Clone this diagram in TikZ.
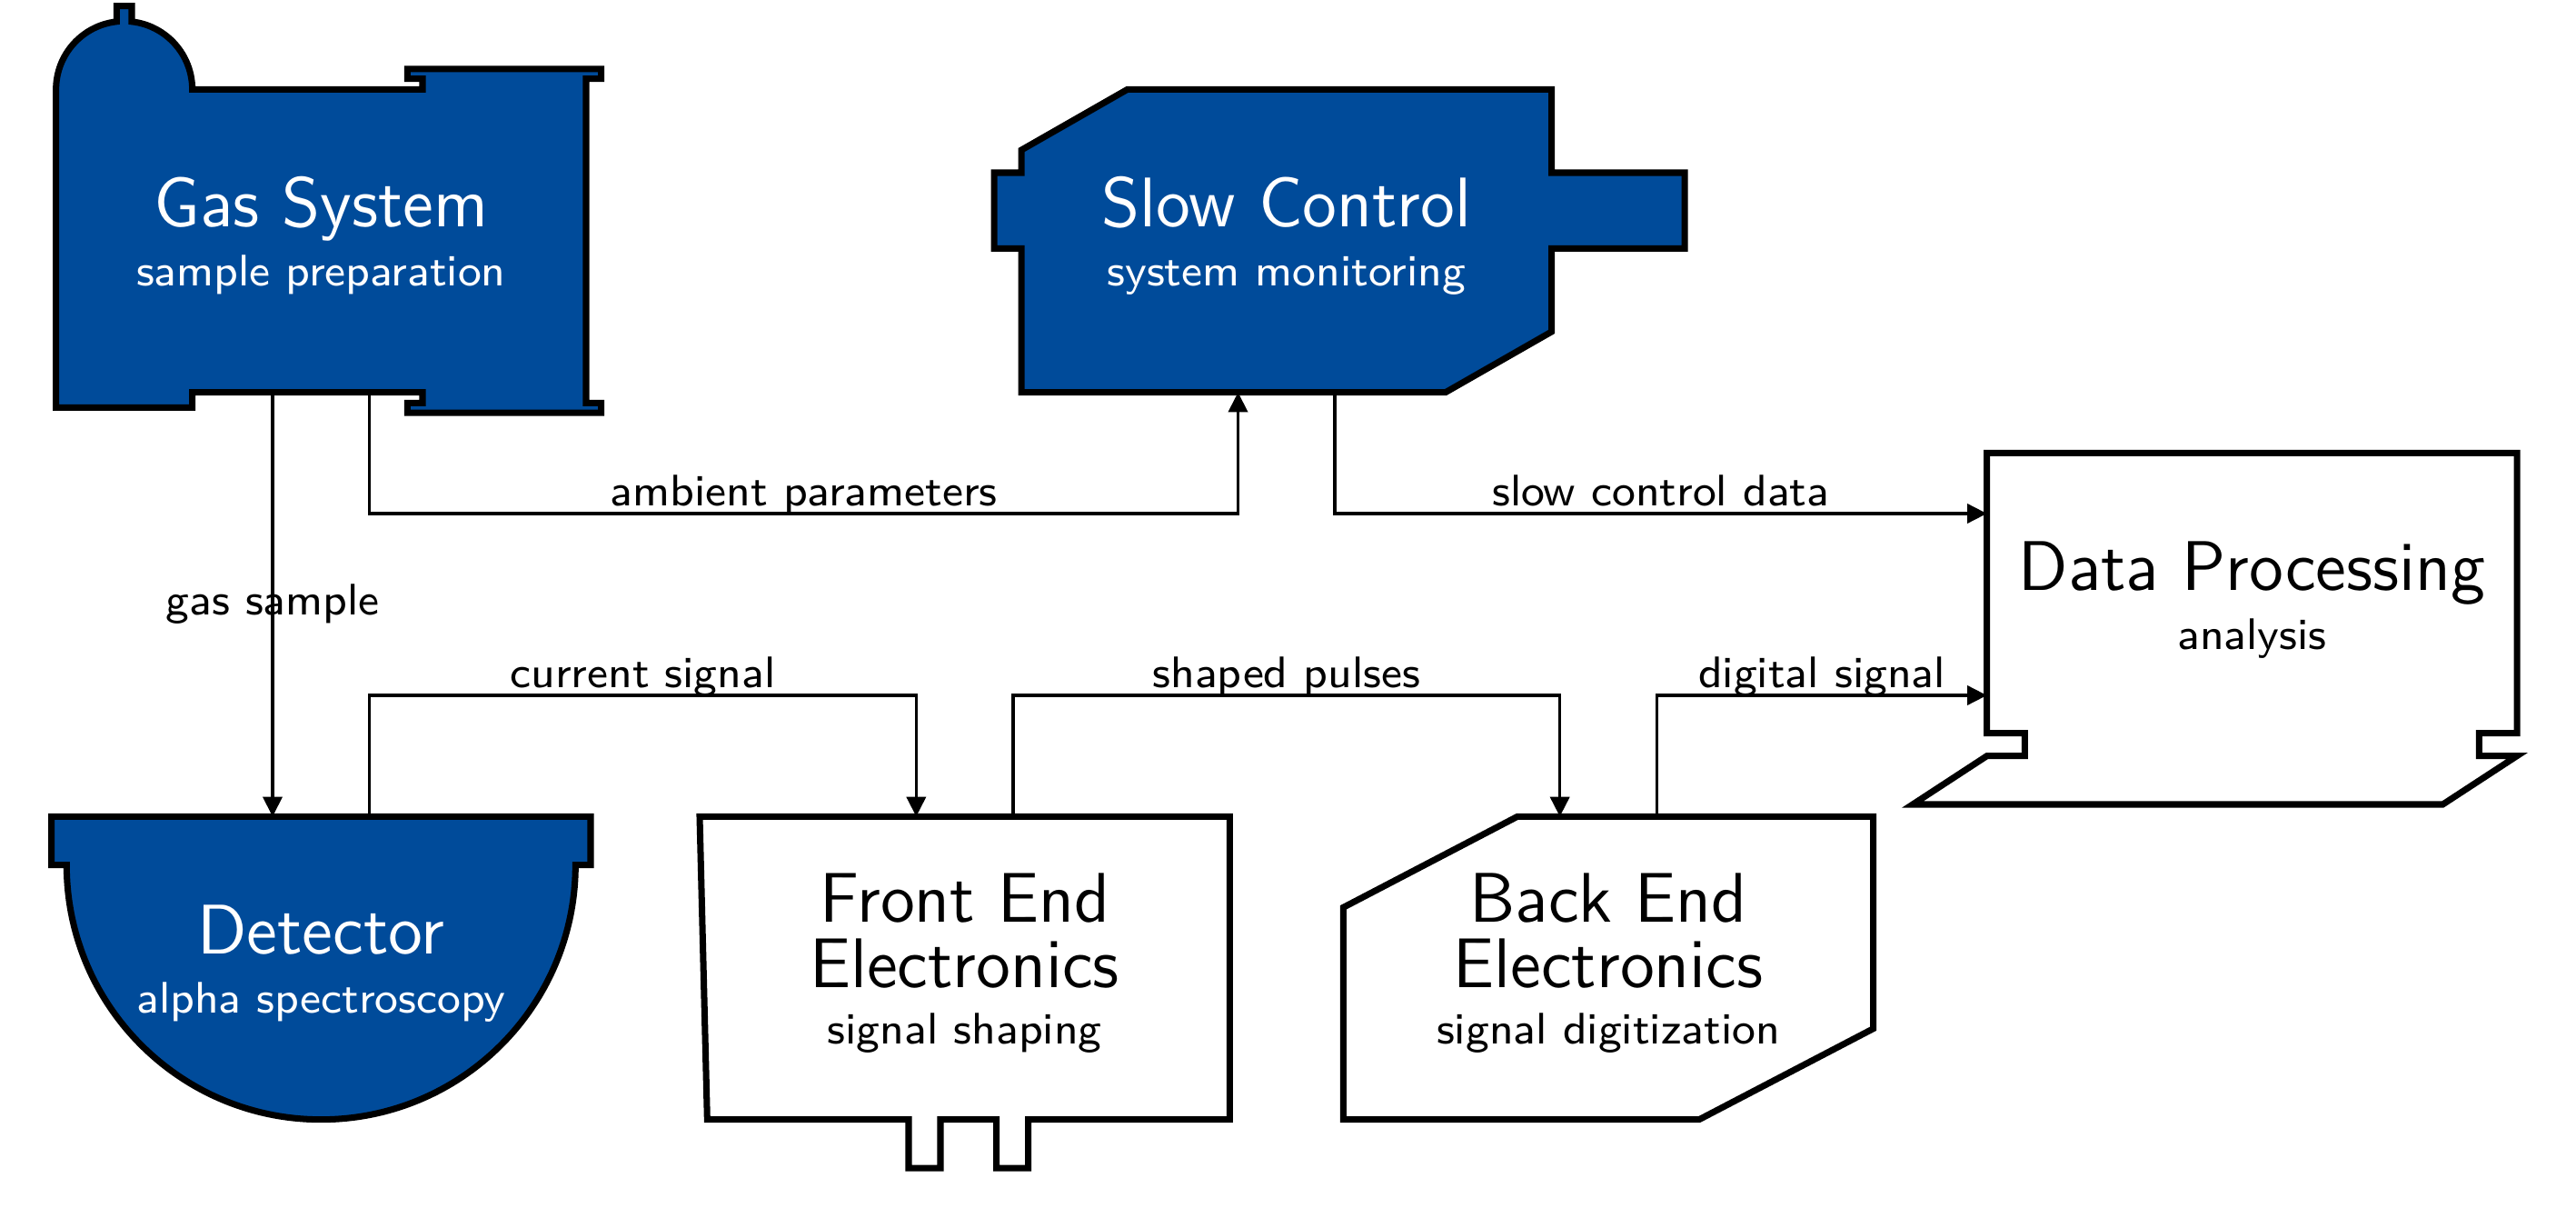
\documentclass[tikz,border=0pt]{standalone}
\usepackage{tikz}
\usetikzlibrary{arrows.meta, calc, positioning}
\definecolor{sysblue}{HTML}{004B9A}
\newcommand{\labelsize}{\fontsize{8.3}{10}\selectfont}
\newcommand{\blocksub}[1]{{\labelsize #1}}

\begin{document}
\begin{tikzpicture}[
	block/.style={minimum width=3.5cm, minimum height=2cm, inner sep=0pt, outer sep=0pt, text depth=3.5pt,
		align=center, font=\sffamily\fontsize{13.2}{12.3}\selectfont},
	outline/.style={very thick},
	link/.style={semithick, -{Triangle[length=3.7pt, width=3.6pt]}},
	lbl/.style={font=\sffamily\labelsize, anchor=base, yshift=1.5pt, inner sep=0pt},
	]
	\useasboundingbox (-2.12,1.59) rectangle (14.89,-6.38);
	% gas system: bottle and flanged chamber
	\draw[outline, fill=sysblue] (-1.75,1) arc[start angle=180, end angle=96.4, radius=0.45]
		-- (-1.35,1.55) -- (-1.25,1.55) -- (-1.25,1.447) arc[start angle=83.6, end angle=0, radius=0.45]
		-- (0.67,1) -- (0.67,1.07) -- (0.57,1.07) -- (0.57,1.135) -- (1.85,1.135) -- (1.85,1.07)
		-- (1.75,1.07) -- (1.75,-1.07) -- (1.85,-1.07) -- (1.85,-1.135) -- (0.57,-1.135) -- (0.57,-1.07)
		-- (0.67,-1.07) -- (0.67,-1) -- (-0.85,-1) -- (-0.85,-1.1) -- (-1.75,-1.1) -- cycle;
	% slow control
	\draw[outline, fill=sysblue, shift={(6.375,0)}] (-1.05,1) -- (1.75,1) -- (1.75,0.45) -- (2.63,0.45)
		-- (2.63,-0.05) -- (1.75,-0.05) -- (1.75,-0.6) -- (1.05,-1) -- (-1.75,-1) -- (-1.75,-0.05)
		-- (-1.93,-0.05) -- (-1.93,0.45) -- (-1.75,0.45) -- (-1.75,0.6) -- cycle;
	% data processing
	\draw[outline, shift={(12.75,-2.4)}] (-1.75,1) -- (1.75,1) -- (1.75,-0.85) -- (1.5,-0.85) -- (1.5,-1)
		-- (1.75,-1) -- (1.26,-1.32) -- (-2.24,-1.32) -- (-1.75,-1) -- (-1.5,-1) -- (-1.5,-0.85)
		-- (-1.75,-0.85) -- cycle;
	% detector
	\draw[outline, fill=sysblue, shift={(0,-4.8)}] (-1.78,1) -- (1.78,1) -- (1.78,0.68) -- (1.68,0.68)
		arc[start angle=0, end angle=-180, radius=1.68] -- (-1.78,0.68) -- cycle;
	% front end electronics
	\draw[outline, shift={(4.25,-4.8)}] (-1.75,1) -- (1.75,1) -- (1.75,-1) -- (0.42,-1) -- (0.42,-1.32)
		-- (0.21,-1.32) -- (0.21,-1) -- (-0.16,-1) -- (-0.16,-1.32) -- (-0.37,-1.32) -- (-0.37,-1)
		-- (-1.7,-1) -- cycle;
	% back end electronics
	\draw[outline, shift={(8.5,-4.8)}] (-0.6,1) -- (1.75,1) -- (1.75,-0.4) -- (0.6,-1) -- (-1.75,-1)
		-- (-1.75,0.4) -- cycle;

	\node[block, text=white] (gas) at (0,0) {Gas System\\[-1.2pt]\blocksub{sample preparation}};
	\node[block, text=white] (slow) at (6.375,0) {Slow Control\\[-1.2pt]\blocksub{system monitoring}};
	\node[block] (dp) at (12.75,-2.4) {Data Processing\\[-1.2pt]\blocksub{analysis}};
	\node[block, text=white] (det) at (0,-4.8) {Detector\\[-1.2pt]\blocksub{alpha spectroscopy}};
	\node[block] (fe) at (4.25,-4.8) {Front End\\Electronics\\[-1.6pt]\blocksub{signal shaping}};
	\node[block] (be) at (8.5,-4.8) {Back End\\Electronics\\[-1.6pt]\blocksub{signal digitization}};

	\draw[link] ($(gas.south)+(-0.32,0)$) -- node[font=\sffamily\labelsize] {gas sample} ($(det.north)+(-0.32,0)$);
	\draw[link] ($(gas.south)+(0.32,0)$) -- ++(0,-0.8) -| node[lbl, pos=0.25] {ambient parameters} ($(slow.south)+(-0.32,0)$);
	\draw[link] ($(slow.south)+(0.32,0)$) |- node[lbl, pos=0.75] {slow control data} ($(dp.west)+(0,0.6)$);
	\draw[link] ($(det.north)+(0.32,0)$) -- ++(0,0.8) -| node[lbl, pos=0.25] {current signal} ($(fe.north)+(-0.32,0)$);
	\draw[link] ($(fe.north)+(0.32,0)$) -- ++(0,0.8) -| node[lbl, pos=0.25] {shaped pulses} ($(be.north)+(-0.32,0)$);
	\draw[link] ($(be.north)+(0.32,0)$) |- node[lbl, pos=0.75] {digital signal} ($(dp.west)+(0,-0.6)$);
\end{tikzpicture}
\end{document}
